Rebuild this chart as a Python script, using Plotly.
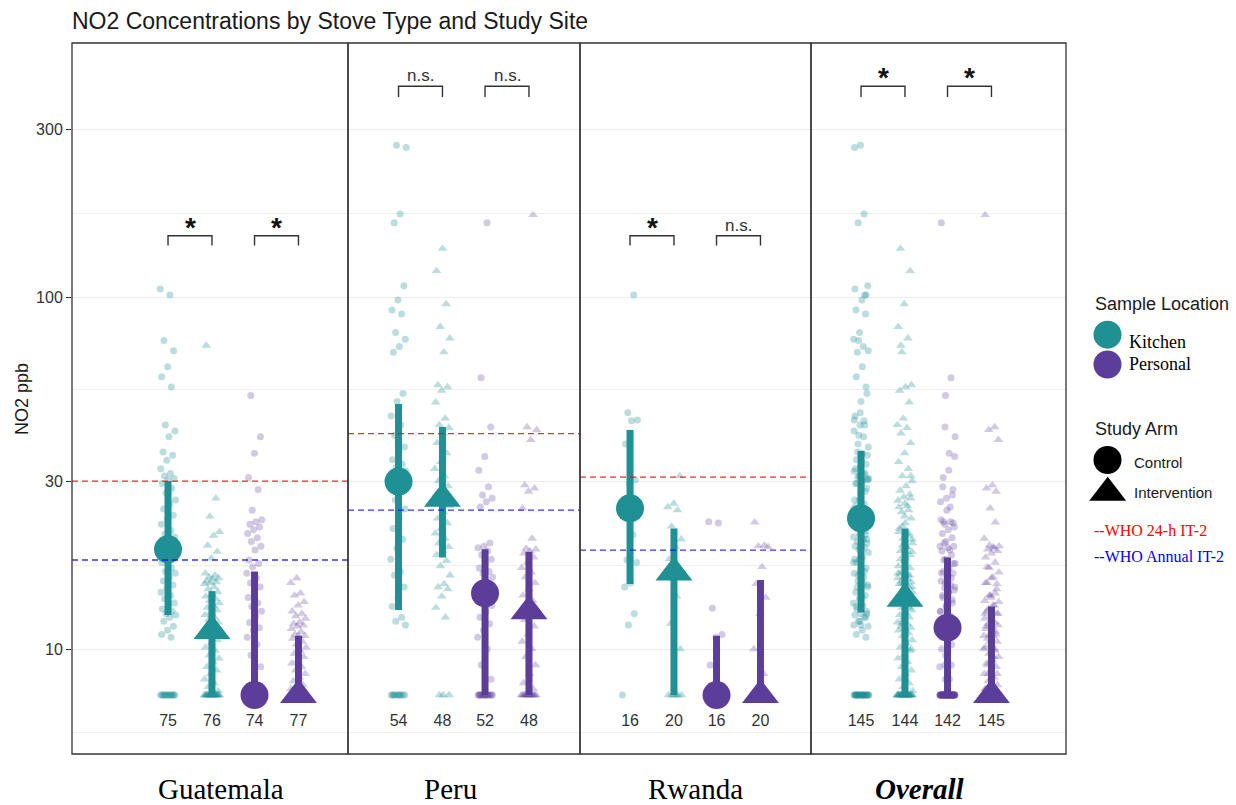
import math
import plotly.graph_objects as go

# ------------------------------------------------------------------ data
site_names = ["Guatemala", "Peru", "Rwanda", "Overall"]
group_locations = ["Kitchen", "Kitchen", "Personal", "Personal"]
group_arms = ["Control", "Intervention", "Control", "Intervention"]

guatemala_kitchen_control = [
    105.4, 101.3, 75.2, 70.3, 63.4, 59.4, 55.5, 43.3, 41.6, 40.1, 36.3, 35.5, 34.4, 32.5, 31.5, 31.0, 30.5, 30.2,
    29.5, 28.6, 27.8, 26.5, 25.8, 25.0, 24.0, 23.4, 22.6, 21.7, 21.2, 20.8, 20.5, 20.2, 20.0, 19.8, 19.6, 19.4, 19.2,
    18.8, 18.2, 17.6, 17.0, 16.6, 16.4, 16.0, 15.6, 15.2, 14.9, 14.5, 14.2, 13.9, 13.5, 13.3, 13.0, 12.8, 12.6, 12.5,
    12.3, 12.0, 11.6, 11.3, 11.0, 10.8,
    7.4, 7.4, 7.4, 7.4, 7.4, 7.4, 7.4, 7.4, 7.4, 7.4,
    7.4, 7.4, 7.4,
]
guatemala_kitchen_intervention = [
    72.8, 26.8, 23.8, 21.5, 21.0, 19.7, 18.9, 18.1, 16.4, 16.2, 16.0, 15.9, 15.8, 15.6, 15.5, 15.4, 15.3, 15.0, 14.8,
    14.5, 14.3, 14.1, 13.9, 13.7, 13.5, 13.3, 13.1, 12.9, 12.7, 12.5, 12.3, 12.1, 11.9, 11.8, 11.6, 11.5, 11.4, 11.3,
    11.1, 10.9, 10.6, 10.4, 10.1, 9.9, 9.6, 9.4, 9.2, 8.9, 8.7, 8.5, 8.2, 8.0, 7.8, 7.6,
    7.4, 7.4, 7.4, 7.4, 7.4, 7.4, 7.4, 7.4, 7.4, 7.4,
    7.4, 7.4, 7.4, 7.4, 7.4, 7.4, 7.4, 7.4, 7.4, 7.4,
    7.4, 7.4,
]
guatemala_personal_control = [
    52.5, 40.1, 36.0, 30.7, 28.4, 24.8, 23.3, 23.0, 22.6, 22.2, 21.8, 21.3, 20.7, 20.2, 19.6, 19.1, 17.9, 17.5, 17.1,
    16.4, 15.9, 15.4, 15.0, 14.5, 14.0, 13.5, 13.2, 12.8, 12.4, 11.9, 11.5, 11.3, 10.8, 10.3, 9.6, 8.9, 8.2,
    7.4, 7.4, 7.4, 7.4, 7.4, 7.4, 7.4, 7.4, 7.4, 7.4,
    7.4, 7.4, 7.4, 7.4, 7.4, 7.4, 7.4, 7.4, 7.4, 7.4,
    7.4, 7.4, 7.4, 7.4, 7.4, 7.4, 7.4, 7.4, 7.4, 7.4,
    7.4, 7.4, 7.4, 7.4, 7.4, 7.4, 7.4,
]
guatemala_personal_intervention = [
    15.9, 15.4, 14.4, 14.2, 13.6, 13.3, 12.8, 12.6, 12.4, 12.2, 11.9, 11.8, 11.7, 11.6, 11.4, 11.2, 11.0, 10.9, 10.9,
    10.7, 10.5, 10.3, 10.1, 9.9, 9.7, 9.5, 9.3, 9.1, 8.9, 8.7, 8.5, 8.3, 8.1, 7.9, 7.8, 7.7, 7.6, 7.5,
    7.4, 7.4, 7.4, 7.4, 7.4, 7.4, 7.4, 7.4, 7.4, 7.4,
    7.4, 7.4, 7.4, 7.4, 7.4, 7.4, 7.4, 7.4, 7.4, 7.4,
    7.4, 7.4, 7.4, 7.4, 7.4, 7.4, 7.4, 7.4, 7.4, 7.4,
    7.4, 7.4, 7.4, 7.4, 7.4, 7.4, 7.4, 7.4, 7.4,
]

peru_kitchen_control = [
    270.0, 266.0, 172.0, 162.5, 107.7, 98.1, 91.8, 89.5, 79.3, 75.9, 72.3, 69.7, 53.2, 50.5,
    45.9, 43.3, 40.5, 37.5, 36.0, 34.5, 33.5, 32.8, 32.0, 31.4, 30.8, 30.4, 30.0,
    29.5, 28.0, 26.5, 25.0, 23.5, 22.0, 20.5, 19.3, 18.0, 16.6, 16.2, 15.0, 14.0, 13.2,
    12.3, 12.0, 11.7,
    7.4, 7.4, 7.4, 7.4, 7.4, 7.4, 7.4, 7.4, 7.4, 7.4,
]
peru_kitchen_intervention = [
    137.2, 118.6, 95.5, 82.3, 76.3, 69.7, 56.2, 55.5, 54.2, 50.2, 45.2, 43.3,
    42.5, 41.0, 38.5, 36.0, 34.0, 32.5, 31.0, 30.0, 29.0, 28.2, 27.5, 27.0,
    26.4, 25.5, 24.5, 23.5, 22.8, 22.0, 21.3, 20.6, 20.0, 19.5, 19.0, 18.5,
    17.8, 17.2, 16.2, 15.3, 15.0, 14.8, 14.1, 13.1, 12.3,
    7.4, 7.4, 7.4,
]
peru_personal_control = [
    162.5, 59.0, 42.7, 35.2, 32.2, 28.9, 27.4, 26.8, 26.2, 25.3, 20.0, 19.6, 19.4,
    19.0, 18.5, 18.0, 17.5, 17.0, 16.6, 16.4, 16.0, 15.6, 15.2, 14.9, 14.7, 14.5,
    14.2, 13.8, 13.3, 12.8, 12.3, 11.8, 11.3, 10.8, 10.0, 9.0, 8.2,
    7.4, 7.4, 7.4, 7.4, 7.4, 7.4, 7.4, 7.4, 7.4, 7.4,
    7.4, 7.4, 7.4, 7.4, 7.4,
]
peru_personal_intervention = [
    171.0, 42.7, 41.9, 39.3, 29.2, 28.6, 28.0, 25.1, 20.6, 19.3, 19.2, 19.0,
    18.7, 18.2, 17.6, 17.0, 16.5, 16.0, 15.4, 14.8, 14.2, 13.7, 13.3, 13.0,
    12.6, 12.1, 11.6, 11.0, 10.5, 10.0, 9.5, 9.0, 8.5, 8.0, 7.7,
    7.4, 7.4, 7.4, 7.4, 7.4, 7.4, 7.4, 7.4, 7.4, 7.4,
    7.4, 7.4, 7.4,
]

rwanda_kitchen_control = [
    101.3, 46.9, 44.7, 44.5, 38.2, 30.2, 29.5, 25.5, 21.1, 17.9, 17.6, 15.4, 15.0, 12.6, 11.7,
    7.4,
]
rwanda_kitchen_intervention = [
    31.0, 25.9, 25.3, 24.8, 22.3, 20.5, 19.5, 18.0, 17.0, 16.6, 16.4, 14.1, 11.8, 10.0,
    7.4, 7.4, 7.4, 7.4, 7.4, 7.4,
]
rwanda_personal_control = [
    23.0, 22.8, 13.05, 11.0, 10.8, 9.0,
    7.4, 7.4, 7.4, 7.4, 7.4, 7.4, 7.4, 7.4, 7.4, 7.4,
]
rwanda_personal_intervention = [
    22.9, 19.7, 19.6, 19.5, 17.1, 15.3, 14.0, 12.6, 10.0, 8.5,
    7.4, 7.4, 7.4, 7.4, 7.4, 7.4, 7.4, 7.4, 7.4, 7.4,
]

# medians and interquartile ranges as drawn (order: KC, KI, PC, PI)
median_values = [
    [19.2, 11.25, 7.4, 7.4],
    [29.9, 26.7, 14.4, 12.8],
    [25.1, 16.5, 7.4, 7.4],
    [23.5, 13.9, 11.5, 7.4],
]
q1_values = [
    [12.5, 7.4, 7.4, 7.4],
    [12.9, 18.2, 7.4, 7.4],
    [15.3, 7.4, 7.4, 7.4],
    [12.7, 7.4, 7.4, 7.4],
]
q3_values = [
    [30.0, 14.6, 16.6, 10.9],
    [49.7, 42.7, 19.2, 18.9],
    [41.9, 22.0, 10.9, 15.7],
    [36.5, 22.0, 18.2, 13.2],
]

who_24h_it2 = [30.0, 40.9, 30.8, None]
who_annual_it2 = [17.9, 24.8, 19.1, None]

significance = [["*", "*"], ["n.s.", "n.s."], ["*", "n.s."], ["*", "*"]]

y_tick_values = [10, 30, 100, 300]
y_tick_labels = ["10", "30", "100", "300"]

site_data = [
    [guatemala_kitchen_control, guatemala_kitchen_intervention,
     guatemala_personal_control, guatemala_personal_intervention],
    [peru_kitchen_control, peru_kitchen_intervention,
     peru_personal_control, peru_personal_intervention],
    [rwanda_kitchen_control, rwanda_kitchen_intervention,
     rwanda_personal_control, rwanda_personal_intervention],
]
overall_data = [site_data[0][g] + site_data[1][g] + site_data[2][g] for g in range(4)]
panel_data = site_data + [overall_data]

# ------------------------------------------------------------------ layout geometry
W, H = 1236, 805
ML, MR, MT, MB = 72, 0, 43, 51
PW = W - ML - MR
PH = H - MT - MB


def px_x(x):
    return (x - ML) / PW


def px_y(y):
    return (H - MB - y) / PH


panel_px = [(72, 348), (348, 580), (580, 811), (811, 1066)]
kitchen_center_px = [190, 420.5, 652, 883]
UNIT = 86.5
DODGE = 0.254
group_pos = [1 - DODGE, 1 + DODGE, 2 - DODGE, 2 + DODGE]
Y_RANGE = [0.7017, 2.7216]

TEAL = "#1F9094"
PURPLE = "#5C3D99"
TEAL_PT = "rgba(31,144,148,0.30)"
PURPLE_PT = "rgba(92,61,153,0.28)"
DARK = "#333333"
SANS = "Liberation Sans"
SERIF = "Liberation Serif"

fig = go.Figure()


def axis_names(i):
    return ("x" if i == 0 else f"x{i+1}"), ("y" if i == 0 else f"y{i+1}")


def jitter(n, phase):
    golden = 0.6180339887
    return [(((k * golden + phase) % 1.0) - 0.5) * 2 * 0.09 for k in range(n)]


x_ranges = []
for i, (l, r) in enumerate(panel_px):
    kc = kitchen_center_px[i]
    x_ranges.append([1 - (kc - l) / UNIT, 1 + (r - kc) / UNIT])

for i in range(4):
    xa, ya = axis_names(i)
    # jittered observations
    for g in range(4):
        vals = panel_data[i][g]
        jit = jitter(len(vals), 0.13 * g + 0.37 * i)
        kitchen = group_locations[g] == "Kitchen"
        control = group_arms[g] == "Control"
        fig.add_trace(go.Scatter(
            x=[group_pos[g] + j for j in jit], y=vals, xaxis=xa, yaxis=ya,
            mode="markers",
            marker=dict(symbol="circle" if control else "triangle-up",
                        size=7 if control else 8.5,
                        color=TEAL_PT if kitchen else PURPLE_PT,
                        line=dict(width=0)),
            showlegend=False, hoverinfo="skip"))
    # IQR line and median
    for g in range(4):
        kitchen = group_locations[g] == "Kitchen"
        control = group_arms[g] == "Control"
        col = TEAL if kitchen else PURPLE
        fig.add_trace(go.Scatter(
            x=[group_pos[g], group_pos[g]], y=[q1_values[i][g], q3_values[i][g]],
            xaxis=xa, yaxis=ya, mode="lines", line=dict(color=col, width=7),
            showlegend=False, hoverinfo="skip"))
        fig.add_trace(go.Scatter(
            x=[group_pos[g]], y=[median_values[i][g]], xaxis=xa, yaxis=ya,
            mode="markers",
            marker=dict(symbol="circle" if control else "triangle-up",
                        size=28 if control else 32, color=col, line=dict(width=0)),
            showlegend=False, hoverinfo="skip", cliponaxis=False))
    # WHO reference lines
    for val, col in ((who_24h_it2[i], "rgba(255,0,0,0.85)"), (who_annual_it2[i], "rgba(0,0,255,0.8)")):
        if val is None:
            continue
        fig.add_trace(go.Scatter(
            x=x_ranges[i], y=[val, val], xaxis=xa, yaxis=ya, mode="lines",
            line=dict(color=col, width=1.3, dash="6px,4px"),
            showlegend=False, hoverinfo="skip"))
    # n labels
    fig.add_trace(go.Scatter(
        x=group_pos, y=[6.2] * 4, xaxis=xa, yaxis=ya, mode="text",
        text=[str(len(v)) for v in panel_data[i]],
        textfont=dict(family=SANS, size=16, color=DARK),
        showlegend=False, hoverinfo="skip"))
    # significance brackets
    high = i in (1, 3)
    top = 397.0 if high else 149.3
    leg = 370.0 if high else 140.0
    for b in range(2):
        xc, xi = group_pos[2 * b], group_pos[2 * b + 1]
        fig.add_trace(go.Scatter(
            x=[xc, xc, xi, xi], y=[leg, top, top, leg], xaxis=xa, yaxis=ya,
            mode="lines", line=dict(color=DARK, width=1.4),
            showlegend=False, hoverinfo="skip"))
        lab = significance[i][b]
        star = lab == "*"
        fig.add_annotation(
            x=(xc + xi) / 2, y=math.log10(top), xref=xa, yref=ya,
            text=f"<b>{lab}</b>" if star else lab, showarrow=False,
            yanchor="bottom", yshift=-9 if star else -1,
            font=dict(family=SANS, size=28 if star else 17, color="#111" if star else DARK))

# axes
for i in range(4):
    xa, ya = axis_names(i)
    xkey = "xaxis" if i == 0 else f"xaxis{i+1}"
    ykey = "yaxis" if i == 0 else f"yaxis{i+1}"
    l, r = panel_px[i]
    fig.layout[xkey] = dict(domain=[px_x(l), px_x(r)], range=x_ranges[i], anchor=ya,
                            showgrid=False, zeroline=False, showticklabels=False,
                            ticks="", showline=False, fixedrange=True)
    ydict = dict(type="log", range=Y_RANGE, domain=[0, 1], anchor=xa,
                 tickmode="array", tickvals=y_tick_values, ticktext=y_tick_labels,
                 showgrid=True, gridcolor="#EBEBEB", gridwidth=1.1,
                 minor=dict(tickmode="array", tickvals=[5.774, 17.32, 54.77, 173.2],
                            showgrid=True, gridcolor="#F0F0F0", gridwidth=1, ticks=""),
                 zeroline=False, showline=False, fixedrange=True)
    if i == 0:
        ydict.update(ticks="outside", ticklen=5, tickwidth=1.1, tickcolor=DARK,
                     tickfont=dict(family=SANS, size=16, color=DARK))
    else:
        ydict.update(matches="y", showticklabels=False, ticks="")
    fig.layout[ykey] = ydict
    fig.add_shape(type="rect", xref=f"{xa} domain", yref=f"{ya} domain",
                  x0=0, x1=1, y0=0, y1=1, line=dict(color=DARK, width=1.3), layer="above")

# legend area axis (pixel coordinates)
LEG_L = 1073
fig.layout["xaxis5"] = dict(domain=[px_x(LEG_L), 1], range=[LEG_L, W], visible=False,
                            anchor="y5", fixedrange=True)
fig.layout["yaxis5"] = dict(domain=[0, 1], range=[H - MB, MT], visible=False,
                            anchor="x5", fixedrange=True)
fig.add_trace(go.Scatter(
    x=[1107.5, 1107.5, 1107.5], y=[334.7, 364.5, 460], xaxis="x5", yaxis="y5",
    mode="markers", marker=dict(symbol="circle", size=28, color=[TEAL, PURPLE, "black"]),
    showlegend=False, hoverinfo="skip", cliponaxis=False))
fig.add_trace(go.Scatter(
    x=[1107.7], y=[492.8], xaxis="x5", yaxis="y5",
    mode="markers", marker=dict(symbol="triangle-up", size=32, color="black"),
    showlegend=False, hoverinfo="skip", cliponaxis=False))

legend_texts = [
    ("Sample Location", 1093, 304, SANS, 18, "#1a1a1a"),
    ("Kitchen", 1127, 342, SERIF, 18, "black"),
    ("Personal", 1127, 363.5, SERIF, 18, "black"),
    ("Study Arm", 1093, 428.5, SANS, 18, "#1a1a1a"),
    ("Control", 1131.5, 462.5, SANS, 15, "#1a1a1a"),
    ("Intervention", 1131.5, 492, SANS, 15, "#1a1a1a"),
    ("--WHO 24-h IT-2", 1091.5, 530, SERIF, 16, "#FF0000"),
    ("--WHO Annual IT-2", 1091.5, 556.5, SERIF, 16, "#0000FF"),
]
for txt, x, y, fam, size, col in legend_texts:
    fig.add_annotation(x=x, y=y, xref="x5", yref="y5", text=txt, showarrow=False,
                       xanchor="left", yanchor="middle", font=dict(family=fam, size=size, color=col))

# facet labels
facet_x = [221, 450, 695, 920]
for name, fx in zip(site_names, facet_x):
    fig.add_annotation(x=px_x(fx), y=px_y(789), xref="paper", yref="paper",
                       text=f"<b><i>{name}</i></b>" if name == "Overall" else name,
                       showarrow=False, xanchor="center", yanchor="middle", borderpad=0,
                       font=dict(family=SERIF, size=29, color="black"))

# y axis title
fig.add_annotation(x=px_x(22), y=px_y(399), xref="paper", yref="paper", text="NO2 ppb",
                   textangle=-90, showarrow=False, xanchor="center", yanchor="middle",
                   font=dict(family=SANS, size=18, color="#1a1a1a"))

fig.update_layout(
    width=W, height=H,
    margin=dict(l=ML, r=MR, t=MT, b=MB, autoexpand=False),
    paper_bgcolor="white", plot_bgcolor="white",
    font=dict(family=SANS, color="#1a1a1a"),
    title=dict(text="NO2 Concentrations by Stove Type and Study Site",
               x=72 / W, xanchor="left", xref="container",
               y=1 - 21 / H, yanchor="middle", yref="container",
               font=dict(family=SANS, size=23, color="#1a1a1a")),
    showlegend=False, hovermode=False,
)

fig.write_html("out.html", config={"displayModeBar": False},
               post_script="document.body.style.margin='0';document.body.style.padding='0';")
